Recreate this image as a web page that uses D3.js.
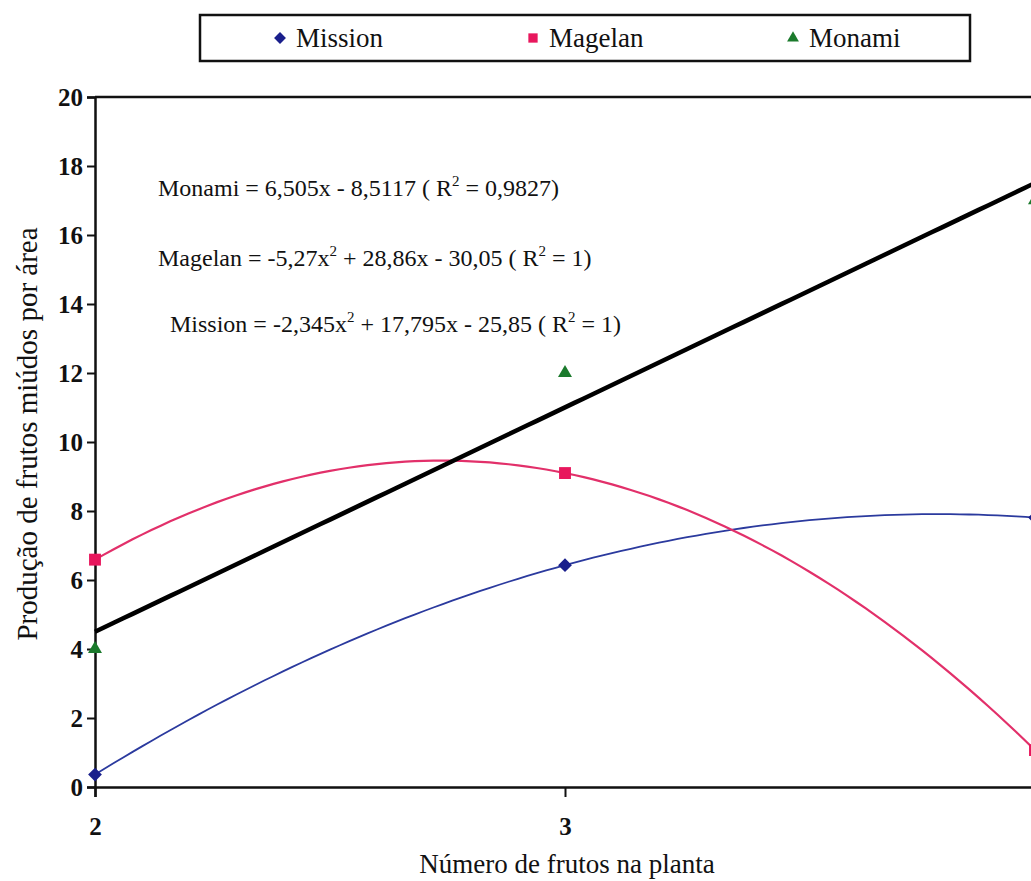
<!DOCTYPE html>
<html>
<head>
<meta charset="utf-8">
<script src="https://cdn.jsdelivr.net/npm/d3@7"></script>
<style>
  html, body { margin: 0; padding: 0; background: #fff; }
  svg { display: block; overflow: hidden; }
  svg text, svg tspan { font-family: "Liberation Serif", serif !important; }
</style>
</head>
<body>
<div id="chart"></div>
<script>
// data
var categories = [2, 3, 4];
var missionValues = [0.36, 6.43, 7.81];
var magelanValues = [6.59, 9.10, 1.07];
var monamiValues = [4.0, 12.0, 17.01];
var yTicks = [0, 2, 4, 6, 8, 10, 12, 14, 16, 18, 20];
var xTicks = [2, 3, 4];
// trend line coefficients (a x^2 + b x + c), as printed on the chart
var monamiCoef = [0, 6.505, -8.5117];
var magelanCoef = [-5.27, 28.86, -30.05];
var missionCoef = [-2.345, 17.795, -25.85];
var equationLabels = [
    "Monami = 6,505x - 8,5117 ( R^2 = 0,9827)",
    "Magelan = -5,27x^2 + 28,86x - 30,05 ( R^2 = 1)",
    "Mission = -2,345x^2 + 17,795x - 25,85 ( R^2 = 1)"
];
var seriesNames = ["Mission", "Magelan", "Monami"];

var FONT = "Liberation Serif";
var W = 1031, H = 881;

var svg = d3.select("#chart").append("svg")
    .attr("width", W)
    .attr("height", H)
    .style("font-family", FONT);

var xScale = d3.scaleLinear().domain([2, 4]).range([95, 1035]);
var yScale = d3.scaleLinear().domain([0, 20]).range([787, 97]);

// frame (top + right)
svg.append("path")
    .attr("d", "M" + xScale(2) + "," + yScale(20) + "H" + xScale(4) + "V" + yScale(0))
    .attr("fill", "none").attr("stroke", "#111").attr("stroke-width", 2.5);

// axes
var yAxis = svg.append("g")
    .attr("class", "y axis")
    .attr("transform", "translate(" + xScale(2) + ",0)")
    .call(d3.axisLeft(yScale).tickValues(yTicks).tickSize(8).tickPadding(4).tickFormat(d3.format("d")));

var xAxis = svg.append("g")
    .attr("class", "x axis")
    .attr("transform", "translate(0," + yScale(0) + ")")
    .call(d3.axisBottom(xScale).tickValues(xTicks).tickSize(10).tickPadding(20)
        .tickFormat(function(d) { return xScale(d) + 6 > W ? "" : d; }));

svg.selectAll(".axis").attr("font-family", FONT);
svg.selectAll(".axis path.domain").attr("stroke", "#111").attr("stroke-width", 2.5);
svg.selectAll(".axis .tick line").attr("stroke", "#111").attr("stroke-width", 2);
svg.selectAll(".axis text")
    .style("font-family", FONT)
    .attr("font-size", 25)
    .attr("font-weight", "bold")
    .attr("fill", "#111");
yAxis.selectAll("text").attr("dy", "0.35em");

// axis titles
svg.append("text")
    .attr("text-anchor", "middle")
    .attr("x", xScale(3) + 2)
    .attr("y", 873)
    .style("font-family", FONT)
    .attr("font-size", 27)
    .attr("fill", "#111")
    .text("Número de frutos na planta");

svg.append("text")
    .attr("text-anchor", "middle")
    .attr("transform", "translate(37," + 434 + ") rotate(-90)")
    .style("font-family", FONT)
    .attr("font-size", 29)
    .attr("fill", "#111")
    .text("Produção de frutos miúdos por área");

// trend lines from the printed equations
var trendX = d3.range(2, 4.0001, 0.02);
function trend(coef) {
    return trendX.map(function(x) { return {x: x, y: coef[0] * x * x + coef[1] * x + coef[2]}; });
}
var valueLine = d3.line()
    .x(function(d) { return xScale(d.x); })
    .y(function(d) { return yScale(d.y); })
    .curve(d3.curveLinear);

var plot = svg.append("g").attr("class", "plot");

plot.append("path").data([trend(missionCoef)])
    .attr("d", valueLine).attr("fill", "none")
    .attr("stroke", "#2b3a9e").attr("stroke-width", 1.8);
plot.append("path").data([trend(magelanCoef)])
    .attr("d", valueLine).attr("fill", "none")
    .attr("stroke", "#e2306a").attr("stroke-width", 2.2);
plot.append("path").data([trend(monamiCoef)])
    .attr("d", valueLine).attr("fill", "none")
    .attr("stroke", "#000").attr("stroke-width", 4.5);

// markers
var diamond = d3.symbol().type(d3.symbolDiamond2).size(120);
var square = d3.symbol().type(d3.symbolSquare2).size(180);
var triangle = d3.symbol().type(d3.symbolTriangle2).size(140);

function markers(values, sym, color) {
    plot.append("g").selectAll("path")
        .data(values).enter().append("path")
        .attr("d", sym)
        .attr("transform", function(d, i) { return "translate(" + xScale(categories[i]) + "," + yScale(d) + ")"; })
        .attr("fill", color);
}
markers(missionValues, diamond, "#1a1f8c");
markers(magelanValues, square, "#e8175d");
markers(monamiValues, triangle, "#1b7a2c");

// equations
var eqPos = [{x: 158, y: 196}, {x: 158, y: 266}, {x: 170, y: 332}];
equationLabels.forEach(function(s, i) {
    var t = svg.append("text")
        .attr("x", eqPos[i].x)
        .attr("y", eqPos[i].y)
        .style("font-family", FONT)
        .attr("font-size", 24)
        .attr("fill", "#111");
    var parts = s.split("^2");
    parts.forEach(function(p, j) {
        t.append("tspan").attr("dy", j === 0 ? 0 : 10).text(p);
        if (j < parts.length - 1) {
            t.append("tspan").attr("dy", -10).attr("font-size", 15).text("2");
        }
    });
});

// legend
var legend = svg.append("g").attr("class", "legend");
legend.append("rect")
    .attr("x", 200).attr("y", 15).attr("width", 770).attr("height", 46)
    .attr("fill", "#fff").attr("stroke", "#111").attr("stroke-width", 2.5);

var legendX = [280, 533, 793];
var legendSyms = [
    d3.symbol().type(d3.symbolDiamond2).size(90),
    d3.symbol().type(d3.symbolSquare2).size(110),
    d3.symbol().type(d3.symbolTriangle2).size(100)
];
var legendColors = ["#1a1f8c", "#e8175d", "#1b7a2c"];
seriesNames.forEach(function(name, i) {
    legend.append("path")
        .attr("d", legendSyms[i])
        .attr("transform", "translate(" + legendX[i] + ",38)")
        .attr("fill", legendColors[i]);
    legend.append("text")
        .attr("x", legendX[i] + 16)
        .attr("y", 47)
        .style("font-family", FONT)
        .attr("font-size", 27)
        .attr("fill", "#111")
        .text(name);
});
</script>
</body>
</html>
